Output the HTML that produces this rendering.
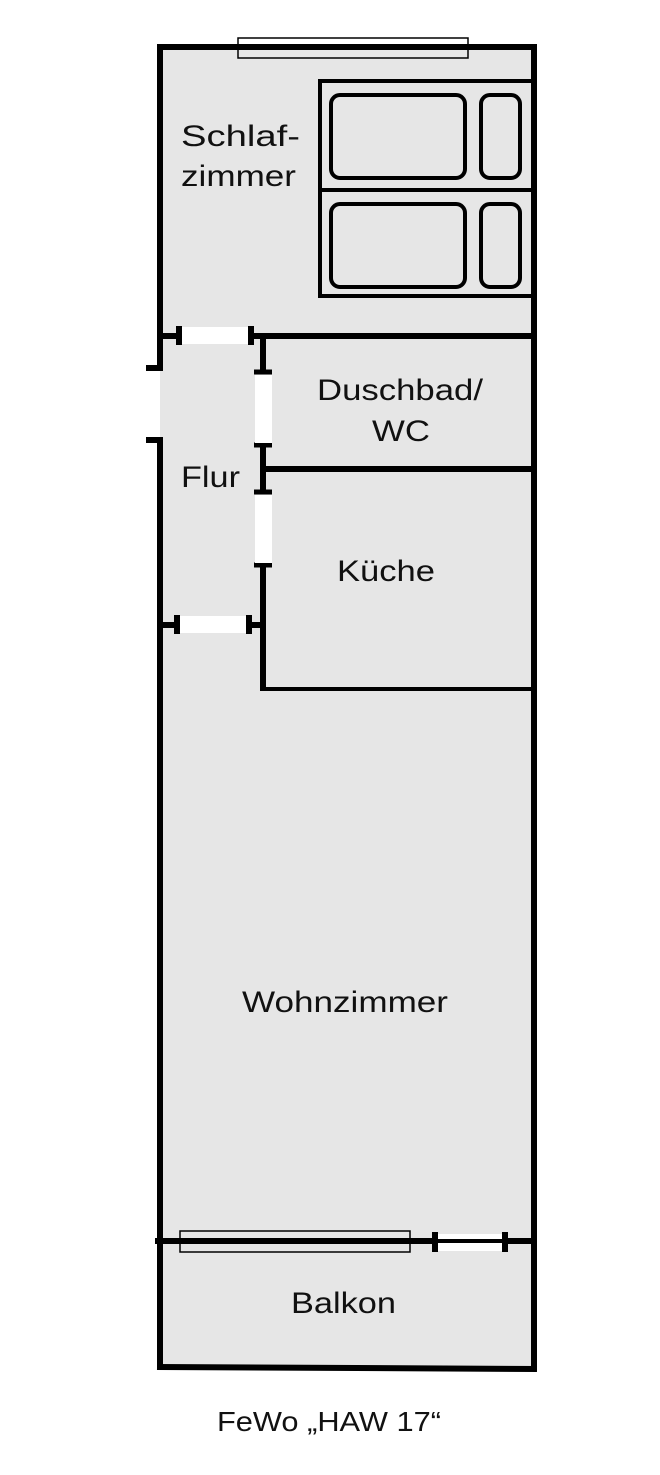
<!DOCTYPE html>
<html><head><style>
html,body{margin:0;padding:0;background:#fff;}
svg{display:block;}
text{font-family:"Liberation Sans",Arial,Helvetica,sans-serif;fill:#111;}
</style></head><body>
<svg width="660" height="1475" viewBox="0 0 660 1475" xmlns="http://www.w3.org/2000/svg">
<rect x="160" y="47" width="374" height="1320" fill="#e6e6e6"/>
<rect x="146" y="370" width="14" height="70" fill="#fff"/>
<rect x="160" y="370" width="6" height="70" fill="#e6e6e6"/>
<g stroke="#000" fill="none" stroke-linecap="butt">
<line x1="157" y1="47" x2="537" y2="47" stroke-width="6"/>
<line x1="534" y1="44" x2="534" y2="1370" stroke-width="6"/>
<line x1="157" y1="1367" x2="537" y2="1369" stroke-width="6"/>
<line x1="160" y1="44" x2="160" y2="371" stroke-width="6"/>
<line x1="146" y1="368" x2="163" y2="368" stroke-width="6"/>
<line x1="146" y1="440" x2="163" y2="440" stroke-width="6"/>
<line x1="160" y1="437" x2="160" y2="1370" stroke-width="6"/>
<line x1="160" y1="336" x2="178" y2="336" stroke-width="6"/>
<line x1="250" y1="336" x2="534" y2="336" stroke-width="6"/>
<line x1="263" y1="336" x2="263" y2="372" stroke-width="6"/>
<line x1="254" y1="372" x2="272" y2="372" stroke-width="5"/>
<line x1="254" y1="445" x2="272" y2="445" stroke-width="5"/>
<line x1="263" y1="445" x2="263" y2="492" stroke-width="6"/>
<line x1="254" y1="492" x2="272" y2="492" stroke-width="5"/>
<line x1="263" y1="469" x2="534" y2="469" stroke-width="6"/>
<line x1="254" y1="565" x2="272" y2="565" stroke-width="5"/>
<line x1="263" y1="565" x2="263" y2="691" stroke-width="6"/>
<line x1="263" y1="689" x2="534" y2="689" stroke-width="4"/>
<line x1="160" y1="625" x2="178" y2="625" stroke-width="6"/>
<line x1="250" y1="625" x2="263" y2="625" stroke-width="6"/>
<line x1="155" y1="1241" x2="537" y2="1241" stroke-width="6"/>
<rect x="320" y="81" width="214" height="215" stroke-width="4"/>
<line x1="320" y1="190" x2="534" y2="190" stroke-width="4"/>
<rect x="331" y="95" width="134" height="83" rx="9" stroke-width="4"/>
<rect x="481" y="95" width="39" height="83" rx="9" stroke-width="4"/>
<rect x="331" y="204" width="134" height="83" rx="9" stroke-width="4"/>
<rect x="481" y="204" width="39" height="83" rx="9" stroke-width="4"/>
</g>
<rect x="182" y="327" width="67" height="17" fill="#fff"/>
<rect x="255" y="375" width="17" height="68" fill="#fff"/>
<rect x="255" y="495" width="17" height="68" fill="#fff"/>
<rect x="180" y="616" width="68" height="17" fill="#fff"/>
<rect x="438" y="1234" width="67" height="17" fill="#fff"/>
<g fill="#000">
<rect x="176" y="326" width="6" height="19"/>
<rect x="248" y="326" width="6" height="19"/>
<rect x="174" y="615" width="6" height="19"/>
<rect x="246" y="615" width="6" height="19"/>
<rect x="432" y="1232" width="6" height="20"/>
<rect x="502" y="1232" width="6" height="20"/>
<rect x="438" y="1239" width="64" height="4"/>
</g>
<rect x="238" y="38" width="230" height="20" fill="none" stroke="#000" stroke-width="1.5"/>
<rect x="180" y="1231" width="230" height="21" fill="none" stroke="#000" stroke-width="1.5"/>
<g font-size="30">
<text x="181" y="146" textLength="119" lengthAdjust="spacingAndGlyphs">Schlaf-</text>
<text x="181" y="186" textLength="115" lengthAdjust="spacingAndGlyphs">zimmer</text>
<text x="317" y="400" textLength="166" lengthAdjust="spacingAndGlyphs">Duschbad/</text>
<text x="372" y="441" textLength="58" lengthAdjust="spacingAndGlyphs">WC</text>
<text x="181" y="487" textLength="59" lengthAdjust="spacingAndGlyphs">Flur</text>
<text x="337" y="581" textLength="98" lengthAdjust="spacingAndGlyphs">Küche</text>
<text x="242" y="1012" textLength="206" lengthAdjust="spacingAndGlyphs">Wohnzimmer</text>
<text x="291" y="1313" textLength="105" lengthAdjust="spacingAndGlyphs">Balkon</text>
<text x="217" y="1431" font-size="28" textLength="224" lengthAdjust="spacingAndGlyphs">FeWo „HAW 17“</text>
</g>
</svg>
</body></html>
